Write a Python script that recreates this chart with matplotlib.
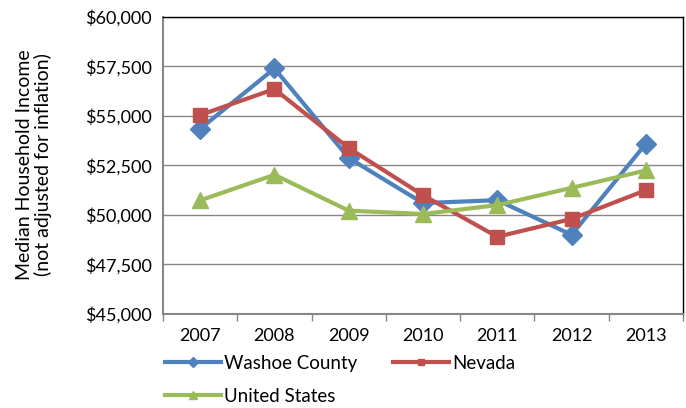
import matplotlib
matplotlib.use("Agg")
import matplotlib.pyplot as plt
from matplotlib.ticker import FuncFormatter

plt.rcParams["font.family"] = ["Lato", "DejaVu Sans"]

# Values
years = ["2007", "2008", "2009", "2010", "2011", "2012", "2013"]
washoe = [54350, 57400, 52880, 50600, 50750, 49000, 53600]
nevada = [55050, 56360, 53380, 51000, 48900, 49800, 51250]
united_states = [50740, 52030, 50220, 50050, 50500, 51370, 52250]

series = [
    ("Washoe County", washoe, "#4F81BD", "D", 10.5),
    ("Nevada", nevada, "#C0504D", "s", 10.0),
    ("United States", united_states, "#9BBB59", "^", 11.5),
]

fig = plt.figure(figsize=(6.86, 4.08), dpi=100)
ax = fig.add_axes([163 / 686, 1 - 314 / 408, 520 / 686, 297 / 408])

x = list(range(len(years)))
handles = {}
for name, vals, col, mk, ms in series:
    h, = ax.plot(x, vals, color=col, lw=3.0, marker=mk, ms=ms,
                 markeredgecolor=col, label=name)
    handles[name] = h

ax.set_xlim(-0.5, len(years) - 0.5)
ax.set_ylim(45000, 60000)
ax.set_yticks(range(45000, 60001, 2500))
ax.yaxis.set_major_formatter(FuncFormatter(lambda v, p: "${:,.0f}".format(v)))
ax.set_xticks(x)
ax.set_xticklabels(years)
ax.set_xticks([i - 0.5 for i in range(len(years) + 1)], minor=True)

ax.grid(axis="y", color="#868686", lw=1.0)
ax.set_axisbelow(True)
ax.tick_params(axis="y", length=0, labelsize=13, pad=8, colors="#000000")
ax.tick_params(axis="x", which="major", length=0, labelsize=13, pad=10)
ax.tick_params(axis="x", which="minor", length=5, color="#868686", width=1)

for s in ["left", "bottom"]:
    ax.spines[s].set_color("#868686")
    ax.spines[s].set_linewidth(1.5)
for s in ["top", "right"]:
    ax.spines[s].set_color("#000000")
    ax.spines[s].set_linewidth(1.0)

fig.text(34 / 686, 1 - 165 / 408,
         "Median Household Income\n(not adjusted for inflation)",
         rotation=90, ha="center", va="center", fontsize=14,
         linespacing=1.1)

# legend fills column-first: Washoe, Nevada on row one, United States below
order = ["Washoe County", "United States", "Nevada"]
fig.legend(handles=[handles[n] for n in order], loc="upper left", ncol=2,
           bbox_to_anchor=(165 / 686, 1 - 355 / 408), frameon=False,
           fontsize=13.5, handlelength=3.0, handletextpad=0.15,
           columnspacing=1.9, labelspacing=0.85, markerscale=0.5,
           borderaxespad=0, borderpad=0)

fig.savefig("out.png", dpi=100)
